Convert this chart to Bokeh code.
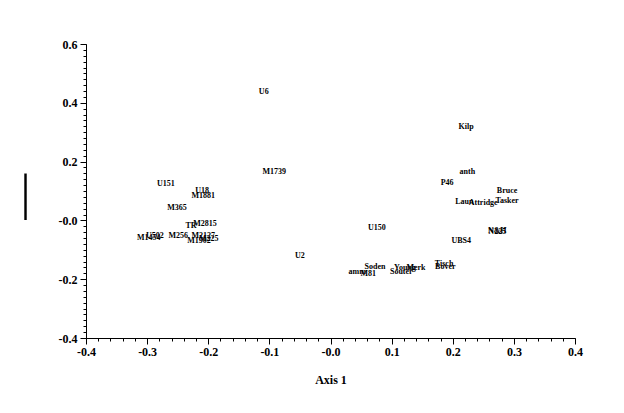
import numpy as np
from bokeh.plotting import figure
from bokeh.models import Range1d, FixedTicker, CustomJSTickFormatter, ColumnDataSource
from bokeh.core.properties import value
from bokeh.embed import file_html
from bokeh.resources import INLINE

names = ["U6", "Kilp", "anth", "P46", "Bruce", "Tasker", "Laun", "Attridge",
         "N&H", "N225", "UBS4", "M1739", "U151", "U18", "M1881", "M365",
         "TR", "M2815", "U150", "M1454", "U502", "M256", "M2127", "M1902",
         "M225", "U2", "amm", "M81", "Soden", "Young", "Souter", "Merk",
         "Tisch", "Bover"]
axis1 = [-0.110, 0.221, 0.223, 0.190, 0.288, 0.288, 0.218, 0.249,
         0.272, 0.272, 0.213, -0.093, -0.270, -0.211, -0.209, -0.252,
         -0.229, -0.206, 0.075, -0.298, -0.288, -0.250, -0.209, -0.216,
         -0.200, -0.051, 0.043, 0.061, 0.072, 0.121, 0.115, 0.139,
         0.185, 0.187]
axis2 = [0.439, 0.320, 0.167, 0.129, 0.105, 0.071, 0.065, 0.061,
         -0.031, -0.037, -0.065, 0.167, 0.126, 0.105, 0.085, 0.044,
         -0.014, -0.010, -0.024, -0.058, -0.051, -0.048, -0.051, -0.065,
         -0.061, -0.119, -0.173, -0.180, -0.156, -0.160, -0.173, -0.160,
         -0.146, -0.156]

x_major = [round(v, 2) for v in np.arange(-0.4, 0.41, 0.1)]
x_minor = [round(v, 2) for v in np.arange(-0.4, 0.401, 0.02)]
y_major = [round(v, 2) for v in np.arange(-0.4, 0.61, 0.2)]
y_minor = [round(v, 2) for v in np.arange(-0.4, 0.601, 0.02)]

src = ColumnDataSource(dict(x=axis1, y=axis2, name=names))

p = figure(width=608, height=405, output_backend="svg", toolbar_location=None,
           x_range=Range1d(-0.4, 0.4), y_range=Range1d(-0.4, 0.6),
           min_border_left=86, min_border_right=33, min_border_top=44,
           min_border_bottom=67)
p.outline_line_color = None
p.xgrid.visible = False
p.ygrid.visible = False

p.text(x="x", y="y", text="name", source=src, text_font=value("Liberation Serif"),
       text_font_style="bold", text_font_size="8px", text_align="center",
       text_baseline="middle", text_color="black")

fmt = CustomJSTickFormatter(code="""
if (Math.abs(tick) < 1e-9) { return "-0.0"; }
return tick.toFixed(1);
""")

p.xaxis.ticker = FixedTicker(ticks=x_major, minor_ticks=x_minor)
p.yaxis.ticker = FixedTicker(ticks=y_major, minor_ticks=y_minor)
for ax in (p.xaxis[0], p.yaxis[0]):
    ax.formatter = fmt
    ax.major_label_text_font = "Liberation Serif"
    ax.major_label_text_font_style = "bold"
    ax.major_label_text_font_size = "12px"
    ax.major_label_text_color = "black"
    ax.axis_line_color = "black"
    ax.major_tick_line_color = "black"
    ax.minor_tick_line_color = "black"
    ax.major_tick_in = 0
    ax.major_tick_out = 6
    ax.minor_tick_in = 0
    ax.minor_tick_out = 3
    ax.major_label_standoff = 3

p.xaxis.axis_label = "Axis 1"
p.xaxis.axis_label_text_font = "Liberation Serif"
p.xaxis.axis_label_text_font_style = "bold"
p.xaxis.axis_label_text_font_size = "12px"
p.xaxis.axis_label_text_color = "black"
p.xaxis.axis_label_standoff = 14

p.yaxis.axis_label = "|"
p.yaxis.axis_label_orientation = "horizontal"
p.yaxis.axis_label_text_font = "Liberation Serif"
p.yaxis.axis_label_text_font_style = "normal"
p.yaxis.axis_label_text_font_size = "50px"
p.yaxis.axis_label_text_color = "black"
p.yaxis.axis_label_standoff = 25

open("out.html", "w").write(file_html(p, INLINE))
